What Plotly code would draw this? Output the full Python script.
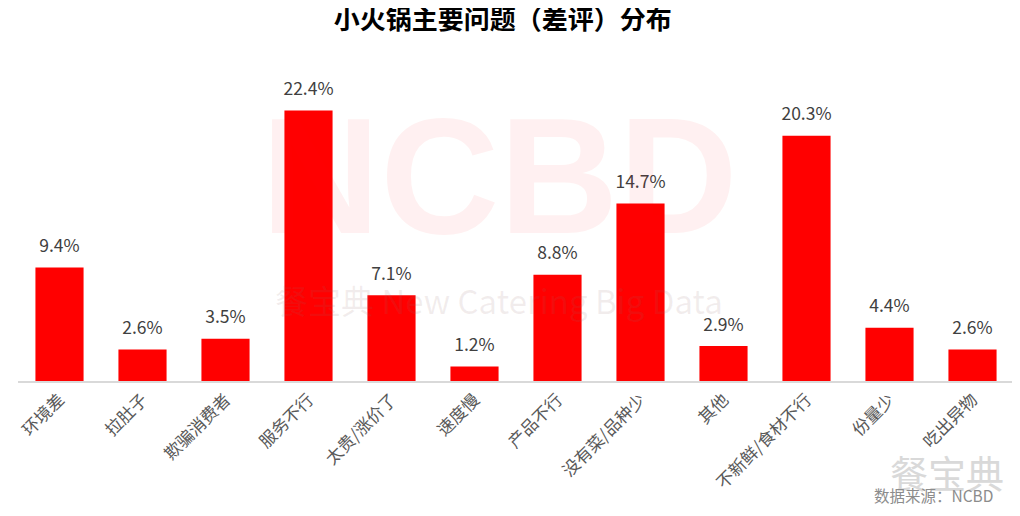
import plotly.graph_objects as go

categories = ['环境差', '拉肚子', '欺骗消费者', '服务不行', '太贵/涨价了', '速度慢',
              '产品不行', '没有菜/品种少', '其他', '不新鲜/食材不行', '份量少', '吃出异物']
values = [9.4, 2.6, 3.5, 22.4, 7.1, 1.2, 8.8, 14.7, 2.9, 20.3, 4.4, 2.6]
labels = [f'{v:.1f}%' for v in values]

cjk = 'Noto Sans CJK SC, Microsoft YaHei, sans-serif'

fig = go.Figure()
fig.add_trace(go.Bar(
    x=categories,
    y=values,
    marker=dict(color='#ff0000', line_width=0),
    hoverinfo='skip',
))
# value labels, placed above an invisible marker so they sit a bit off the bar
fig.add_trace(go.Scatter(
    x=categories,
    y=values,
    mode='markers+text',
    text=labels,
    textposition='top center',
    marker=dict(size=16, opacity=0),
    textfont=dict(size=17.5, color='#404040', family=cjk),
    cliponaxis=False,
))

# the page body adds 8px, so margins are set 8px smaller on top/left
fig.update_layout(
    width=1020, height=516,
    paper_bgcolor='white',
    plot_bgcolor='white',
    showlegend=False,
    bargap=0.42,
    margin=dict(l=10, r=14, t=71, b=143),
    title=dict(text='<b>小火锅主要问题（差评）分布</b>', x=0.485, xanchor='center',
               y=0.977, yanchor='middle',
               font=dict(size=26, color='#000000', family=cjk)),
    xaxis=dict(tickangle=-45, showline=True, linecolor='#d9d9d9', linewidth=2,
               ticks='', automargin=False, range=[-0.5, len(categories) - 0.5],
               tickfont=dict(size=17, color='#595959', family=cjk),
               showgrid=False),
    yaxis=dict(range=[0, 25], visible=False, showgrid=False, zeroline=False,
               automargin=False),
)

# watermark
fig.add_annotation(text='<b>NCBD</b>', xref='paper', yref='paper', x=0.483, y=0.68,
                   xanchor='center', yanchor='middle', showarrow=False,
                   font=dict(size=165, color='rgba(255,0,25,0.06)',
                             family='Liberation Sans, Arial'))
fig.add_annotation(text='餐宝典 New Catering Big Data', xref='paper', yref='paper',
                   x=0.483, y=0.268, xanchor='center', yanchor='middle', showarrow=False,
                   font=dict(size=33, color='rgba(150,110,110,0.12)', family=cjk))

# logo and source
fig.add_annotation(text='餐宝典', xref='paper', yref='paper', x=0.933, y=-0.3,
                   xanchor='center', yanchor='middle', showarrow=False,
                   font=dict(size=38, color='#d9d9d9', family=cjk))
fig.add_annotation(text='数据来源：NCBD', xref='paper', yref='paper', x=0.981, y=-0.377,
                   xanchor='right', yanchor='middle', showarrow=False,
                   font=dict(size=15.5, color='#8c8c8c', family=cjk))

fig.write_html('out.html')
